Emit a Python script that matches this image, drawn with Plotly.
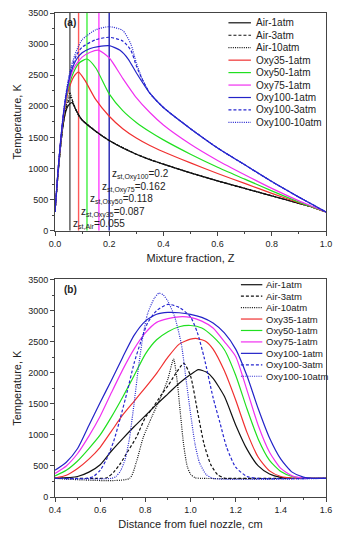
import plotly.graph_objects as go
from plotly.subplots import make_subplots

# ---------------- Data: (a) temperature vs mixture fraction ----------------
names = ["Air-1atm", "Air-3atm", "Air-10atm", "Oxy35-1atm", "Oxy50-1atm",
         "Oxy75-1atm", "Oxy100-1atm", "Oxy100-3atm", "Oxy100-10atm"]

z_air1 = [0, 0.01, 0.02, 0.03, 0.04, 0.05, 0.063, 0.08, 0.1, 0.15, 0.2, 0.25, 0.3, 0.35, 0.4, 0.5, 0.6, 0.7, 0.8, 0.9, 0.95, 1.0]
t_air1 = [300, 850, 1330, 1700, 1920, 2020, 2060, 1920, 1780, 1600, 1450, 1330, 1230, 1140, 1070, 930, 800, 680, 560, 440, 380, 300]
z_air3 = [0, 0.01, 0.02, 0.03, 0.04, 0.05, 0.058, 0.07, 0.085, 0.1, 0.15, 0.2, 0.3, 0.4, 0.5, 0.6, 0.7, 0.8, 0.9, 0.95, 1.0]
t_air3 = [300, 850, 1330, 1710, 1950, 2090, 2150, 2020, 1870, 1780, 1600, 1450, 1230, 1070, 930, 800, 680, 560, 440, 380, 300]
z_air10 = [0, 0.01, 0.02, 0.03, 0.04, 0.05, 0.055, 0.065, 0.075, 0.09, 0.1, 0.15, 0.2, 0.3, 0.4, 0.5, 0.6, 0.7, 0.8, 0.9, 0.95, 1.0]
t_air10 = [300, 850, 1330, 1720, 1980, 2160, 2220, 2080, 1960, 1830, 1780, 1600, 1450, 1230, 1070, 930, 800, 680, 560, 440, 380, 300]
z_oxy35 = [0, 0.01, 0.02, 0.03, 0.04, 0.05, 0.07, 0.087, 0.11, 0.15, 0.2, 0.25, 0.3, 0.35, 0.4, 0.5, 0.6, 0.7, 0.8, 0.9, 0.95, 1.0]
t_oxy35 = [300, 880, 1380, 1780, 2060, 2260, 2480, 2550, 2420, 2110, 1840, 1640, 1490, 1370, 1270, 1090, 920, 760, 600, 450, 380, 300]
z_oxy50 = [0, 0.01, 0.02, 0.03, 0.04, 0.05, 0.07, 0.09, 0.118, 0.15, 0.2, 0.25, 0.3, 0.35, 0.4, 0.5, 0.6, 0.7, 0.8, 0.9, 0.95, 1.0]
t_oxy50 = [300, 890, 1390, 1800, 2100, 2310, 2560, 2700, 2760, 2620, 2200, 1930, 1740, 1590, 1460, 1230, 1020, 830, 640, 460, 380, 300]
z_oxy75 = [0, 0.01, 0.02, 0.03, 0.04, 0.05, 0.07, 0.1, 0.13, 0.162, 0.2, 0.25, 0.3, 0.35, 0.4, 0.5, 0.6, 0.7, 0.8, 0.9, 0.95, 1.0]
t_oxy75 = [300, 900, 1400, 1820, 2130, 2360, 2620, 2790, 2870, 2900, 2780, 2450, 2140, 1900, 1700, 1390, 1130, 900, 680, 480, 390, 300]
z_oxy100_1 = [0, 0.01, 0.02, 0.03, 0.04, 0.05, 0.06, 0.08, 0.1, 0.13, 0.16, 0.2, 0.24, 0.27, 0.3, 0.35, 0.4, 0.5, 0.6, 0.7, 0.8, 0.9, 0.95, 1.0]
t_oxy100_1 = [300, 900, 1410, 1830, 2150, 2390, 2560, 2760, 2860, 2930, 2960, 2975, 2900, 2760, 2540, 2210, 1980, 1640, 1330, 1060, 790, 540, 420, 300]
z_oxy100_3 = [0, 0.01, 0.02, 0.03, 0.04, 0.05, 0.06, 0.08, 0.1, 0.15, 0.2, 0.25, 0.28, 0.3, 0.32, 0.35, 0.4, 0.5, 0.6, 0.7, 0.8, 0.9, 0.95, 1.0]
t_oxy100_3 = [300, 900, 1410, 1840, 2170, 2420, 2600, 2830, 2950, 3070, 3110, 3050, 2900, 2650, 2450, 2210, 1980, 1640, 1330, 1060, 790, 540, 420, 300]
z_oxy100_10 = [0, 0.01, 0.02, 0.03, 0.04, 0.05, 0.06, 0.08, 0.1, 0.15, 0.2, 0.25, 0.28, 0.3, 0.32, 0.35, 0.4, 0.5, 0.6, 0.7, 0.8, 0.9, 0.95, 1.0]
t_oxy100_10 = [300, 900, 1410, 1850, 2190, 2450, 2650, 2900, 3070, 3230, 3280, 3220, 3000, 2700, 2460, 2210, 1980, 1640, 1330, 1060, 790, 540, 420, 300]

# stoichiometric mixture fractions
zst_labels = ["Air", "Oxy35", "Oxy50", "Oxy75", "Oxy100"]
zst_values = [0.055, 0.087, 0.118, 0.162, 0.2]
zst_text = ["0.055", "0.087", "0.118", "0.162", "0.2"]
zst_label_T = [100, 300, 500, 700, 900]

# ---------------- Data: (b) temperature vs distance ----------------
d_air1 = [0.4, 0.5, 0.55, 0.6, 0.65, 0.7, 0.75, 0.8, 0.85, 0.9, 0.95, 1.0, 1.035, 1.07, 1.1, 1.15, 1.2, 1.25, 1.3, 1.35, 1.4, 1.45, 1.6]
T_air1 = [300, 330, 400, 520, 740, 940, 1130, 1310, 1490, 1660, 1830, 1970, 2050, 2010, 1910, 1620, 1160, 770, 500, 370, 315, 300, 300]
d_air3 = [0.4, 0.6, 0.63, 0.66, 0.69, 0.72, 0.76, 0.8, 0.83, 0.87, 0.9, 0.93, 0.97, 1.0, 1.03, 1.06, 1.09, 1.12, 1.15, 1.2, 1.6]
T_air3 = [300, 300, 310, 400, 540, 720, 960, 1280, 1420, 1640, 1790, 1960, 2150, 1950, 1400, 850, 520, 360, 305, 300, 300]
d_air10 = [0.4, 0.73, 0.76, 0.79, 0.83, 0.87, 0.9, 0.925, 0.94, 0.955, 0.97, 0.985, 1.0, 1.02, 1.05, 1.6]
T_air10 = [300, 300, 560, 950, 1300, 1620, 1900, 2220, 1900, 1350, 830, 500, 370, 310, 300, 300]
d_oxy35 = [0.4, 0.45, 0.5, 0.55, 0.6, 0.65, 0.7, 0.75, 0.8, 0.85, 0.9, 0.95, 1.0, 1.03, 1.07, 1.1, 1.15, 1.2, 1.25, 1.3, 1.35, 1.4, 1.45, 1.6]
T_oxy35 = [305, 350, 460, 610, 800, 1060, 1320, 1540, 1760, 1990, 2250, 2460, 2540, 2550, 2500, 2380, 2030, 1560, 1040, 640, 420, 330, 305, 300]
d_oxy50 = [0.4, 0.45, 0.5, 0.55, 0.6, 0.65, 0.7, 0.75, 0.8, 0.85, 0.9, 0.95, 1.0, 1.05, 1.1, 1.15, 1.2, 1.25, 1.3, 1.35, 1.4, 1.45, 1.5, 1.6]
T_oxy50 = [340, 430, 580, 780, 1000, 1290, 1610, 1950, 2300, 2530, 2660, 2740, 2760, 2720, 2580, 2370, 1960, 1420, 930, 590, 410, 330, 305, 300]
d_oxy75 = [0.4, 0.45, 0.5, 0.55, 0.6, 0.65, 0.7, 0.75, 0.8, 0.85, 0.9, 0.95, 1.0, 1.05, 1.1, 1.15, 1.2, 1.25, 1.3, 1.35, 1.4, 1.45, 1.5, 1.6]
T_oxy75 = [380, 500, 700, 980, 1300, 1680, 2050, 2380, 2640, 2810, 2870, 2900, 2890, 2830, 2720, 2500, 2260, 1720, 1150, 720, 460, 340, 305, 300]
d_oxy100_1 = [0.4, 0.45, 0.5, 0.55, 0.6, 0.65, 0.7, 0.75, 0.8, 0.85, 0.9, 0.95, 1.0, 1.05, 1.1, 1.15, 1.2, 1.25, 1.3, 1.35, 1.4, 1.45, 1.5, 1.55, 1.6]
T_oxy100_1 = [430, 560, 780, 1150, 1520, 1880, 2250, 2600, 2830, 2940, 2970, 2965, 2940, 2890, 2800, 2640, 2380, 1950, 1420, 950, 610, 400, 320, 300, 300]
d_oxy100_3 = [0.4, 0.54, 0.57, 0.6, 0.63, 0.66, 0.69, 0.72, 0.75, 0.78, 0.81, 0.85, 0.9, 0.95, 1.0, 1.03, 1.06, 1.1, 1.13, 1.16, 1.2, 1.25, 1.3, 1.6]
T_oxy100_3 = [300, 300, 330, 430, 620, 900, 1280, 1700, 2150, 2500, 2800, 3000, 3100, 3050, 2900, 2650, 2250, 1600, 1200, 800, 480, 330, 300, 300]
d_oxy100_10 = [0.4, 0.65, 0.67, 0.69, 0.71, 0.73, 0.75, 0.77, 0.79, 0.81, 0.84, 0.86, 0.88, 0.9, 0.93, 0.96, 0.98, 1.0, 1.02, 1.04, 1.07, 1.1, 1.6]
T_oxy100_10 = [300, 300, 330, 420, 600, 950, 1500, 2100, 2600, 2950, 3200, 3280, 3250, 3150, 2900, 2450, 1900, 1350, 850, 550, 360, 300, 300]

# ---------------- Styles ----------------
colors = ["#111111", "#111111", "#111111", "#f03030", "#20e020",
          "#f030f0", "#2323c8", "#2727d0", "#2727d0"]
dashes = ["solid", "3px,2px", "1px,1.2px", "solid", "solid", "solid", "solid", "3px,2px", "1px,1.2px"]
zst_colors = ["#555555", "#ff5a5a", "#40f040", "#ff40ff", "#2020b0"]

top_x = [z_air1, z_air3, z_air10, z_oxy35, z_oxy50, z_oxy75, z_oxy100_1, z_oxy100_3, z_oxy100_10]
top_y = [t_air1, t_air3, t_air10, t_oxy35, t_oxy50, t_oxy75, t_oxy100_1, t_oxy100_3, t_oxy100_10]
bot_x = [d_air1, d_air3, d_air10, d_oxy35, d_oxy50, d_oxy75, d_oxy100_1, d_oxy100_3, d_oxy100_10]
bot_y = [T_air1, T_air3, T_air10, T_oxy35, T_oxy50, T_oxy75, T_oxy100_1, T_oxy100_3, T_oxy100_10]

FONT = "Liberation Sans, Arial, sans-serif"
TXT = "#222222"

fig = make_subplots(rows=2, cols=1, vertical_spacing=0.1)

# vertical stoichiometric lines (drawn first, under the curves)
for zv, c in zip(zst_values, zst_colors):
    fig.add_trace(go.Scatter(x=[zv, zv], y=[0, 3500], mode="lines",
                             line=dict(color=c, width=1.4), showlegend=False,
                             hoverinfo="skip"), row=1, col=1)

for i in range(len(names)):
    fig.add_trace(go.Scatter(x=top_x[i], y=top_y[i], mode="lines", name=names[i],
                             line=dict(color=colors[i], width=1.2, dash=dashes[i],
                                       shape="spline", smoothing=0.6),
                             showlegend=False), row=1, col=1)
    fig.add_trace(go.Scatter(x=bot_x[i], y=bot_y[i], mode="lines", name=names[i],
                             line=dict(color=colors[i], width=1.2, dash=dashes[i],
                                       shape="spline", smoothing=0.6),
                             showlegend=False), row=2, col=1)

axis_common = dict(showline=True, linecolor="#444444", linewidth=1, mirror=True,
                   ticks="outside", ticklen=4, tickcolor="#444444", showgrid=False,
                   zeroline=False, tickfont=dict(family=FONT, size=9, color=TXT),
                   title_font=dict(family=FONT, size=11, color=TXT))

fig.update_xaxes(range=[0, 1], dtick=0.2, tickformat=".1f",
                 minor=dict(ticks="outside", ticklen=2, dtick=0.1, tickcolor="#444444"),
                 title_text="Mixture fraction, Z", title_standoff=6,
                 row=1, col=1, **axis_common)
fig.update_xaxes(range=[0.4, 1.6], dtick=0.2, tickformat=".1f",
                 minor=dict(ticks="outside", ticklen=2, dtick=0.1, tickcolor="#444444"),
                 title_text="Distance from fuel nozzle, cm", title_standoff=6,
                 row=2, col=1, **axis_common)
for r in (1, 2):
    fig.update_yaxes(range=[0, 3500], dtick=500,
                     minor=dict(ticks="outside", ticklen=2, dtick=250, tickcolor="#444444"),
                     title_text="Temperature, K", title_standoff=4,
                     row=r, col=1, **axis_common)

fig.update_layout(
    width=339, height=535,
    margin=dict(l=55, r=7, t=13, b=36),
    paper_bgcolor="white", plot_bgcolor="white",
    showlegend=False,
    font=dict(family=FONT, size=9, color=TXT),
    yaxis=dict(domain=[0.5502, 1.0]),
    yaxis2=dict(domain=[0.0, 0.4494]),
)

# panel labels
fig.add_annotation(text="<b>(a)</b>", xref="x domain", yref="y domain", x=0.025, y=0.955,
                   xanchor="left", yanchor="middle", showarrow=False,
                   font=dict(family=FONT, size=10, color=TXT))
fig.add_annotation(text="<b>(b)</b>", xref="x2 domain", yref="y2 domain", x=0.025, y=0.955,
                   xanchor="left", yanchor="middle", showarrow=False,
                   font=dict(family=FONT, size=10, color=TXT))

# z_st annotations
for lab, zv, zt, ty in zip(zst_labels, zst_values, zst_text, zst_label_T):
    fig.add_annotation(text="z<sub>st," + lab + "</sub>=" + zt, x=zv + 0.003, y=ty,
                       xref="x", yref="y", xanchor="left", yanchor="middle",
                       showarrow=False, font=dict(family=FONT, size=10, color=TXT))

# manual legends (compact spacing as in the original)
def draw_legend(xref, yref, x0, x1, xt, ytop, step, fsize):
    for i, nm in enumerate(names):
        yy = ytop - i * step
        fig.add_shape(type="line", xref=xref, yref=yref, x0=x0, x1=x1, y0=yy, y1=yy,
                      line=dict(color=colors[i], width=1.2, dash=dashes[i]))
        fig.add_annotation(text=nm, xref=xref, yref=yref, x=xt, y=yy, xanchor="left",
                           yanchor="middle", showarrow=False,
                           font=dict(family=FONT, size=fsize, color=TXT))

draw_legend("x domain", "y domain", 0.64, 0.723, 0.733, 0.955, 0.0572, 10)
draw_legend("x2 domain", "y2 domain", 0.686, 0.765, 0.77, 0.976, 0.0526, 9.5)

fig.write_html("out.html")
